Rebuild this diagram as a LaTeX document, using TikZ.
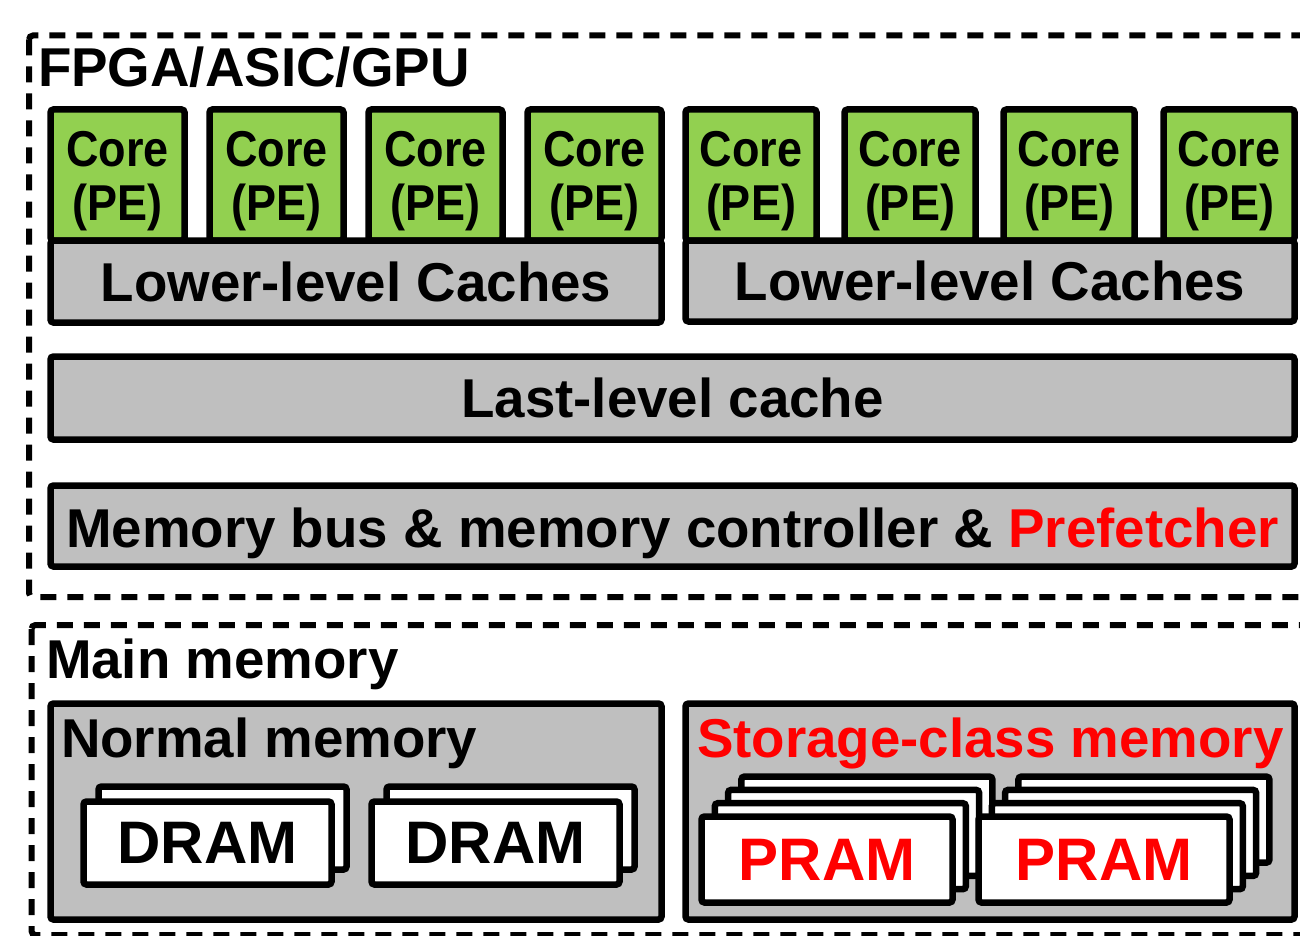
\documentclass[tikz,border=0pt]{standalone}
\usepackage{fontspec}
\setmainfont{Liberation Sans}
\usetikzlibrary{positioning}
\definecolor{coregreen}{HTML}{92D050}
\definecolor{cachegray}{HTML}{BFBFBF}
\newcommand{\petext}{\scalebox{1}[1.12]{\begin{tabular}[t]{@{}c@{}}Core\\(PE)\end{tabular}}}
\begin{document}
\begin{tikzpicture}[x=1pt,y=-1pt,
  every node/.style={inner sep=0pt,outer sep=0pt,font=\bfseries\fontsize{54.7}{60}\selectfont},
  box/.style={draw,line width=6.5pt,rounded corners=3pt,fill=cachegray,anchor=north west},
  core/.style={box,fill=coregreen,minimum height=131pt,text height=0pt,text depth=16pt,
    font=\bfseries\fontsize{45}{48}\selectfont},
  chip/.style={box,fill=white,font=\bfseries\fontsize{60}{62}\selectfont},
  group/.style={draw,line width=6pt,dash pattern=on 16pt off 11pt,rounded corners=4pt},
  title/.style={anchor=base west}]
  \useasboundingbox (0,0) rectangle (1300,936);
  \clip (0,0) rectangle (1300,936);
  \draw[group] (29,35.5) rectangle (1340,597);
  \draw[group] (31.5,625) rectangle (1340,935);
  \node[title] (fpga) at (38,87) {FPGA/ASIC/GPU};
  \foreach \x [count=\i] in {50.5,209.5,368.5,527.5}
    \node[core,minimum width=134pt] (cl\i) at (\x,109.5) {\petext};
  \foreach \x [count=\i] in {685.5,844.5,1003.5,1163.5}
    \node[core,minimum width=131pt] (cr\i) at (\x,109.5) {\petext};
  \node[box,minimum width=611pt,minimum height=82pt] (llcl) at (50.5,240.5) {Lower-level Caches};
  \node[box,minimum width=609pt,minimum height=81pt] (llcr) at (685.5,240.5) {Lower-level Caches};
  \node[box,minimum width=1244pt,minimum height=83pt] (llc) at (50.5,356.5) {Last-level cache};
  \node[box,minimum width=1244pt,minimum height=81pt] (bus) at (50.5,485.5) {};
  \node[anchor=base] (buslabel) at (672.5,547) {Memory bus \& memory controller \& \textcolor{red}{Prefetcher}};
  \node[title] (main) at (46,678) {Main memory};
  \node[box,minimum width=611pt,minimum height=216pt] (normal) at (50.5,703.5) {};
  \node[box,minimum width=609pt,minimum height=216pt] (scm) at (685.5,703.5) {};
  \node[title] (normallabel) at (61,757) {Normal memory};
  \node[title,text=red] (scmlabel) at (697,757) {Storage-class memory};
  \foreach \x [count=\i] in {83.5,371.5} {
    \node[chip,minimum width=248pt,minimum height=83pt] (dramb\i) at (\x+15,786.5) {};
    \node[chip,minimum width=248pt,minimum height=83pt] (dram\i) at (\x,801.5) {DRAM};
  }
  \foreach \x [count=\i] in {701.5,978.5} {
    \foreach \k in {3,2,1}
      \node[chip,minimum width=251pt,minimum height=86pt] (pram\i b\k) at (\x+13.3*\k,816.5-13.3*\k) {};
    \node[chip,minimum width=251pt,minimum height=86pt,text=red] (pram\i) at (\x,816.5) {PRAM};
  }
\end{tikzpicture}
\end{document}
